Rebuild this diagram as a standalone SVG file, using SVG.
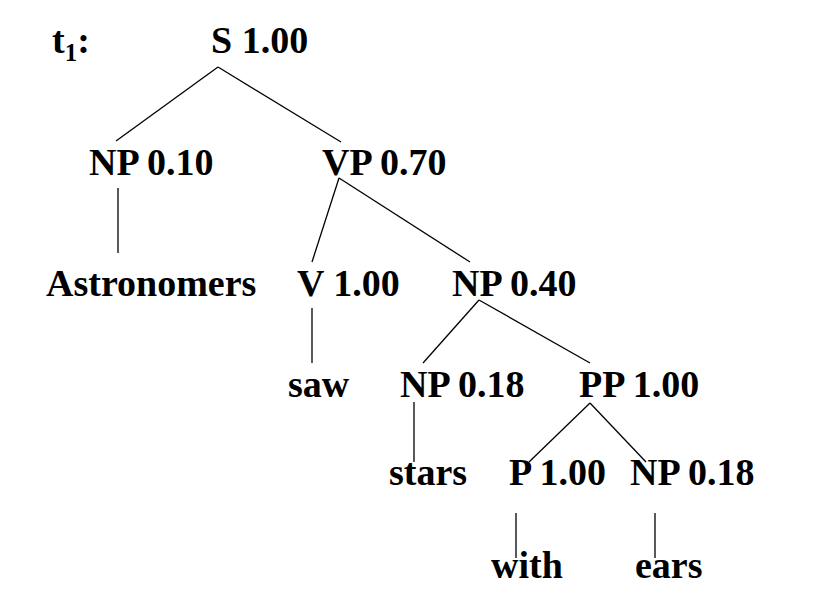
<svg xmlns="http://www.w3.org/2000/svg" width="831" height="610" viewBox="0 0 831 610">
<style>
text{font-family:"Liberation Serif","Times New Roman",serif;font-weight:bold;font-size:38px;fill:#000}
.sub{font-size:25px}
line{stroke:#000;stroke-width:1.3}
</style>
<rect width="831" height="610" fill="#fff"/>
<g id="title"><text x="52" y="53">t<tspan class="sub" dy="8">1</tspan><tspan dy="-8">:</tspan></text></g>
<g id="connectors">
<line x1="218" y1="67" x2="116" y2="141"/>
<line x1="218" y1="67" x2="341" y2="142"/>
<line x1="118" y1="188" x2="118" y2="253"/>
<line x1="339" y1="178" x2="312" y2="262"/>
<line x1="339" y1="178" x2="470" y2="262"/>
<line x1="312" y1="308" x2="312" y2="363"/>
<line x1="479" y1="300" x2="423" y2="363"/>
<line x1="479" y1="300" x2="590" y2="363"/>
<line x1="414" y1="402" x2="414" y2="462"/>
<line x1="590" y1="403" x2="529" y2="462"/>
<line x1="590" y1="403" x2="646" y2="462"/>
<line x1="516" y1="513" x2="516" y2="558"/>
<line x1="655" y1="513" x2="655" y2="558"/>
</g>
<g id="n_S"><text x="211" y="53">S 1.00</text></g>
<g id="n_NP1"><text x="89" y="175">NP 0.10</text></g>
<g id="n_VP"><text x="322" y="175">VP 0.70</text></g>
<g id="n_Astronomers"><text x="46" y="296">Astronomers</text></g>
<g id="n_V"><text x="297" y="296">V 1.00</text></g>
<g id="n_NP2"><text x="452" y="296">NP 0.40</text></g>
<g id="n_saw"><text x="288" y="397">saw</text></g>
<g id="n_NP3"><text x="400" y="397">NP 0.18</text></g>
<g id="n_PP"><text x="579" y="397">PP 1.00</text></g>
<g id="n_stars"><text x="389" y="485">stars</text></g>
<g id="n_P"><text x="509" y="485">P 1.00</text></g>
<g id="n_NP4"><text x="630" y="485">NP 0.18</text></g>
<g id="n_with"><text x="491" y="578">with</text></g>
<g id="n_ears"><text x="635" y="578">ears</text></g>
</svg>
